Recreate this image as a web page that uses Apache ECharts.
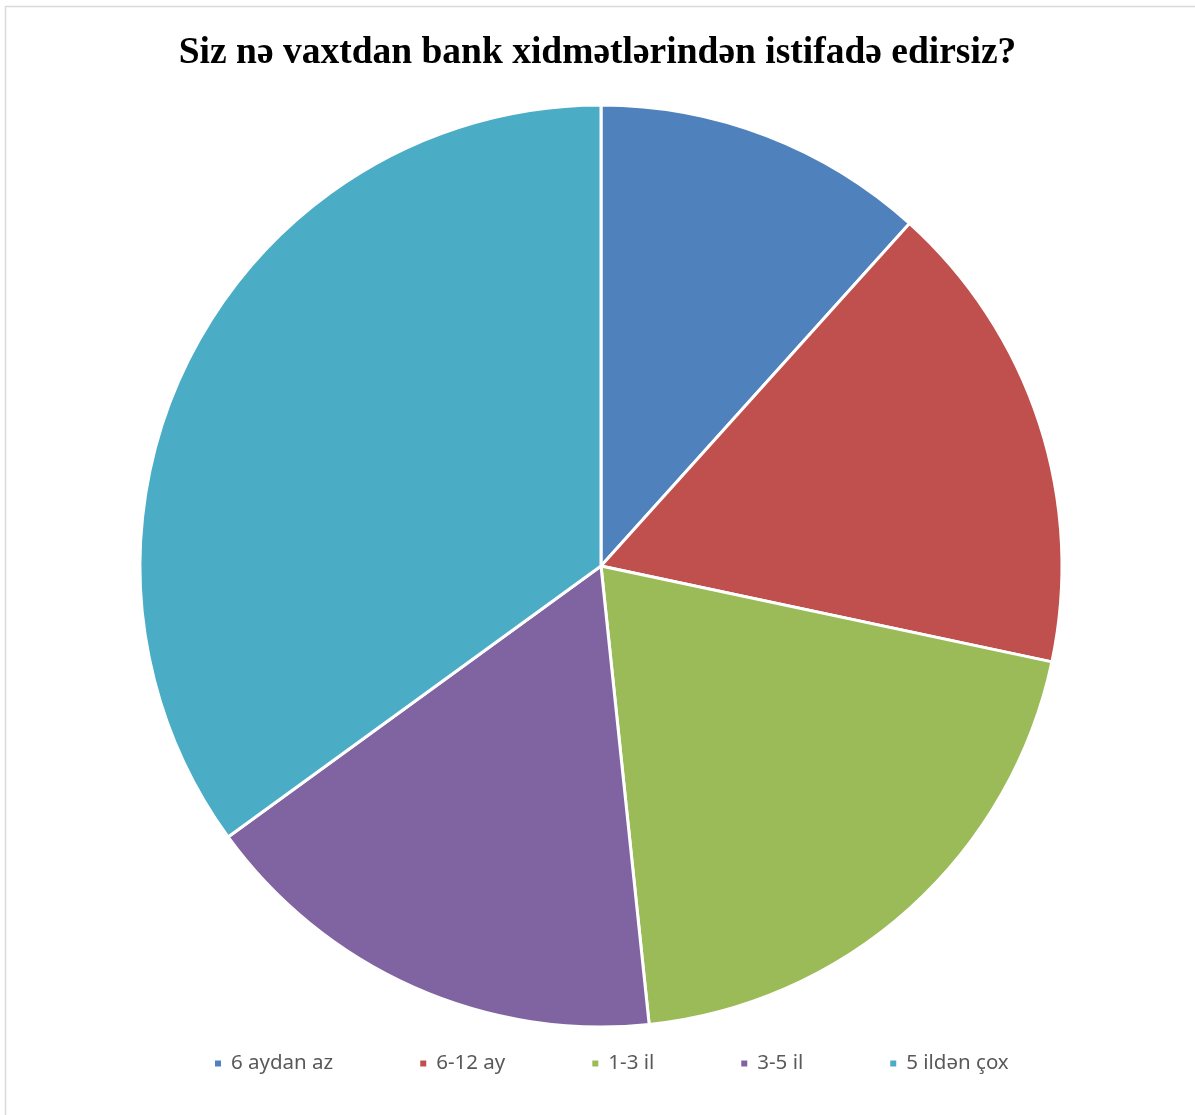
<!DOCTYPE html>
<html>
<head>
<meta charset="utf-8">
<script src="https://cdn.jsdelivr.net/npm/echarts@6/dist/echarts.min.js"></script>
<style>
html,body{margin:0;padding:0;background:#fff;}
#chart{width:1195px;height:1115px;}
</style>
</head>
<body>
<div id="chart"></div>
<script>
var titleText = 'Siz nə vaxtdan bank xidmətlərindən istifadə edirsiz?';
var categories = ['6 aydan az', '6-12 ay', '1-3 il', '3-5 il', '5 ildən çox'];
var values = [7, 10, 12, 10, 21];
var colors = ['#4F81BD', '#C0504D', '#9BBB59', '#8064A2', '#4BACC6'];

var chart = echarts.init(document.getElementById('chart'), null, {renderer: 'canvas'});
chart.setOption({
  animation: false,
  color: colors,
  graphic: [{
    type: 'rect',
    shape: {x: 5.5, y: 6.5, width: 1400, height: 1400},
    style: {fill: 'none', stroke: '#d9d9d9', lineWidth: 1.5},
    silent: true, z: -10
  }],
  title: {
    text: titleText,
    left: 'center',
    top: 29,
    textStyle: {fontFamily: 'Liberation Serif', fontWeight: 'bold', fontSize: 37.5, color: '#000'}
  },
  legend: {
    bottom: 36,
    left: 208,
    icon: 'rect',
    itemWidth: 8,
    itemHeight: 8,
    itemGap: 85,
    textStyle: {fontFamily: 'Noto Sans', fontSize: 20.5, color: '#595959', padding: [0, 0, 0, 4]},
    data: categories
  },
  series: [{
    type: 'pie',
    center: [601, 566],
    radius: 461,
    startAngle: 90,
    clockwise: true,
    label: {show: false},
    labelLine: {show: false},
    itemStyle: {borderColor: '#fff', borderWidth: 3},
    data: categories.map(function (c, i) { return {name: c, value: values[i]}; })
  }]
});
</script>
</body>
</html>
